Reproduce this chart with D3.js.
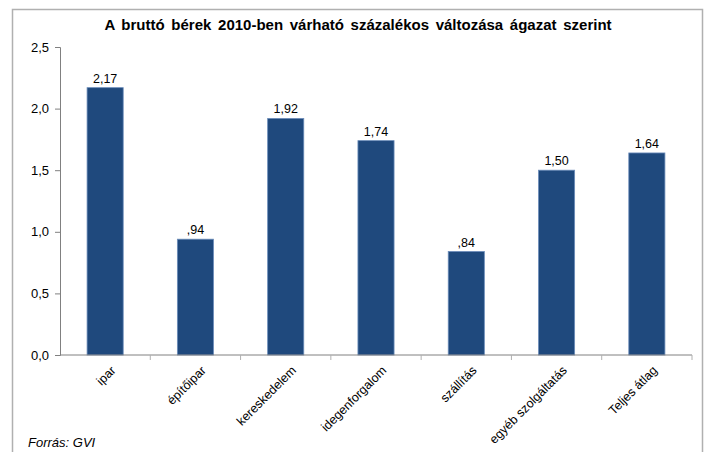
<!DOCTYPE html>
<html>
<head>
<meta charset="utf-8">
<script src="https://cdn.jsdelivr.net/npm/d3@7"></script>
<style>
  body { margin: 0; background: #fff; }
  svg text { font-family: "Liberation Sans", Arial, sans-serif; fill: #000; }
</style>
</head>
<body>
<div id="chart"></div>
<script>
const categories = ["ipar", "építőipar", "kereskedelem", "idegenforgalom", "szállítás", "egyéb szolgáltatás", "Teljes átlag"];
const values = [2.17, 0.94, 1.92, 1.74, 0.84, 1.50, 1.64];
const yTicks = [0, 0.5, 1.0, 1.5, 2.0, 2.5];

const W = 705, H = 452;
const margin = { top: 47, right: 13, bottom: 97, left: 60 };
const width = W - margin.left - margin.right,
      height = H - margin.top - margin.bottom;

const svg = d3.select("#chart").append("svg")
  .attr("width", W).attr("height", H);

// keret
svg.append("path")
  .attr("d", `M12.5,${H} V9.5 H702.5 V${H}`)
  .attr("fill", "none").attr("stroke", "#b0b0b0").attr("stroke-width", 1.5);

svg.append("text")
  .attr("x", 358).attr("y", 30)
  .attr("text-anchor", "middle")
  .attr("font-size", 15).attr("font-weight", "bold")
  .attr("word-spacing", 2.5)
  .text("A bruttó bérek 2010-ben várható százalékos változása ágazat szerint");

const g = svg.append("g").attr("transform", `translate(${margin.left},${margin.top})`);

const x = d3.scaleBand().domain(categories).range([0, width]).paddingInner(0.6).paddingOuter(0.3);
const y = d3.scaleLinear().domain([0, 2.5]).range([height, 0]);

const comma = v => d3.format(".1f")(v).replace(".", ",");
const labelFmt = v => d3.format(".2f")(v).replace(".", ",").replace(/^0/, "");

// y tengely
const yAxis = g.append("g")
  .call(d3.axisLeft(y).tickValues(yTicks).tickFormat(comma).tickSize(5).tickPadding(6));
yAxis.selectAll("text").attr("font-size", 13);
yAxis.selectAll("line, path").attr("stroke", "#808080");

// oszlopok
g.selectAll("rect.bar")
  .data(values)
  .enter().append("rect")
  .attr("class", "bar")
  .attr("x", (d, i) => x(categories[i]))
  .attr("y", d => y(d))
  .attr("width", x.bandwidth())
  .attr("height", d => height - y(d))
  .attr("fill", "#1f497d")
  .attr("stroke", "#6b8cba").attr("stroke-width", 0.8);

g.selectAll("text.val")
  .data(values)
  .enter().append("text")
  .attr("class", "val")
  .attr("x", (d, i) => x(categories[i]) + x.bandwidth() / 2)
  .attr("y", d => y(d) - 5)
  .attr("text-anchor", "middle")
  .attr("font-size", 12.5)
  .text(labelFmt);

// x tengely
const step = width / categories.length;
const xAxis = g.append("g").attr("transform", `translate(0,${height})`);
xAxis.append("line").attr("x1", 0).attr("x2", width).attr("stroke", "#808080");
xAxis.selectAll("line.tick")
  .data(d3.range(1, categories.length + 1))
  .enter().append("line")
  .attr("class", "tick")
  .attr("x1", d => d * step).attr("x2", d => d * step)
  .attr("y1", 0).attr("y2", 5)
  .attr("stroke", "#b0b0b0");

xAxis.selectAll("text")
  .data(categories)
  .enter().append("text")
  .attr("transform", d => `translate(${x(d) + x.bandwidth() / 2 + 5},${10}) rotate(-45)`)
  .attr("text-anchor", "end")
  .attr("dy", "0.7em")
  .attr("font-size", 12.5)
  .text(d => d);

svg.append("text")
  .attr("x", 28).attr("y", 447)
  .attr("font-size", 13).attr("font-style", "italic")
  .text("Forrás: GVI");
</script>
</body>
</html>
